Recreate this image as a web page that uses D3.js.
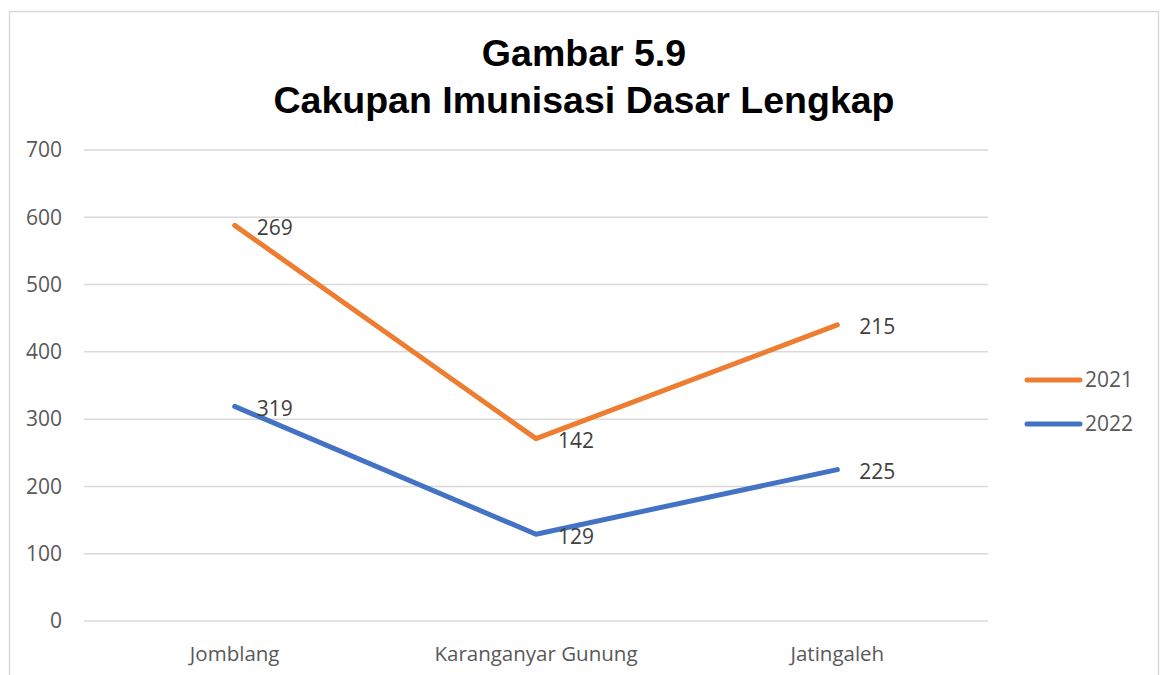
<!DOCTYPE html>
<html>
<head>
<meta charset="utf-8">
<script src="https://cdn.jsdelivr.net/npm/d3@7"></script>
<style>
  body { margin: 0; background: #fff; }
  text { font-family: "Open Sans", "Liberation Sans", sans-serif; }
</style>
</head>
<body>
<div id="chart"></div>
<script>
// chart data
var categories = ["Jomblang", "Karanganyar Gunung", "Jatingaleh"];
var values2022 = [319, 129, 225];
var values2021 = [269, 142, 215];
var yTicks = [0, 100, 200, 300, 400, 500, 600, 700];
var titleLines = ["Gambar 5.9", "Cakupan Imunisasi Dasar Lengkap"];

// stacked line: 2021 sits on top of 2022
var series = [
  {name: "2021", color: "#ED7D31", labels: values2021,
   stacked: values2021.map(function(v, i){ return v + values2022[i]; })},
  {name: "2022", color: "#4472C4", labels: values2022, stacked: values2022}
];

var svg = d3.select("#chart").append("svg")
  .attr("width", 1160)
  .attr("height", 675);

// outer border
svg.append("rect")
  .attr("x", 9.5).attr("y", 11.5)
  .attr("width", 1149).attr("height", 680)
  .style("fill", "none")
  .style("stroke", "#d9d9d9")
  .style("stroke-width", 1.5);

var x = d3.scaleBand().domain(categories).range([84, 988]);
var y = d3.scaleLinear().domain([0, 700]).range([621, 150]);

// title
svg.selectAll(".title")
  .data(titleLines).enter()
  .append("text")
  .attr("x", 584)
  .attr("y", function(d, i){ return 66 + i * 47; })
  .attr("text-anchor", "middle")
  .style("font-family", "'Liberation Sans', Arial, sans-serif")
  .style("font-weight", "bold")
  .style("font-size", "37.5px")
  .style("fill", "#000")
  .text(function(d){ return d; });

// gridlines
svg.selectAll(".grid")
  .data(yTicks).enter()
  .append("line")
  .attr("x1", 84).attr("x2", 988)
  .attr("y1", function(d){ return y(d); })
  .attr("y2", function(d){ return y(d); })
  .style("stroke", "#d9d9d9")
  .style("stroke-width", 1.5);

// y axis labels
svg.selectAll(".ylab")
  .data(yTicks).enter()
  .append("text")
  .attr("x", 62)
  .attr("y", function(d){ return y(d); })
  .attr("dy", "0.35em")
  .attr("text-anchor", "end")
  .style("font-size", "21px")
  .style("fill", "#595959")
  .text(function(d){ return d; });

// x axis labels
svg.selectAll(".xlab")
  .data(categories).enter()
  .append("text")
  .attr("x", function(d){ return x(d) + x.bandwidth() / 2; })
  .attr("y", 661)
  .attr("text-anchor", "middle")
  .style("font-size", "20.5px")
  .style("fill", "#595959")
  .text(function(d){ return d; });

var line = d3.line()
  .x(function(d, i){ return x(categories[i]) + x.bandwidth() / 2; })
  .y(function(d){ return y(d); });

// lines
svg.selectAll(".series")
  .data(series).enter()
  .append("path")
  .attr("d", function(d){ return line(d.stacked); })
  .style("fill", "none")
  .style("stroke", function(d){ return d.color; })
  .style("stroke-width", 5)
  .style("stroke-linecap", "round")
  .style("stroke-linejoin", "round");

// data labels (right of point)
series.forEach(function(s){
  svg.selectAll(null)
    .data(s.stacked).enter()
    .append("text")
    .attr("x", function(d, i){ return x(categories[i]) + x.bandwidth() / 2 + 22; })
    .attr("y", function(d){ return y(d) + 2; })
    .attr("dy", "0.35em")
    .style("font-size", "21px")
    .style("fill", "#404040")
    .text(function(d, i){ return s.labels[i]; });
});

// legend
var legend = svg.selectAll(".legend")
  .data(series).enter()
  .append("g")
  .attr("transform", function(d, i){ return "translate(1027," + (380 + i * 44) + ")"; });

legend.append("line")
  .attr("x1", 0).attr("x2", 53)
  .style("stroke", function(d){ return d.color; })
  .style("stroke-width", 5)
  .style("stroke-linecap", "round");

legend.append("text")
  .attr("x", 58)
  .attr("dy", "0.35em")
  .style("font-size", "21px")
  .style("fill", "#595959")
  .text(function(d){ return d.name; });
</script>
</body>
</html>
